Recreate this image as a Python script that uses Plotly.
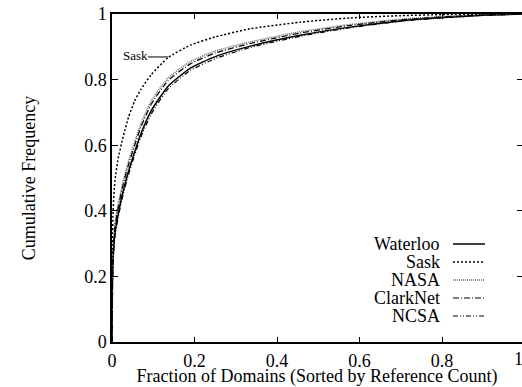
import plotly.graph_objects as go

# fraction of domains (sorted by reference count)
x_vals = [0, 0.001, 0.003, 0.007, 0.015, 0.027, 0.04, 0.055, 0.07, 0.095, 0.136, 0.19, 0.25, 0.335, 0.456, 0.577, 0.7, 0.8, 0.9, 1.0]

waterloo = [0, 0.17, 0.26, 0.33, 0.39, 0.46, 0.52, 0.58, 0.635, 0.705, 0.78, 0.835, 0.87, 0.902, 0.935, 0.96, 0.979, 0.989, 0.996, 1.0]
sask     = [0, 0.30, 0.41, 0.49, 0.56, 0.625, 0.685, 0.735, 0.77, 0.815, 0.867, 0.905, 0.93, 0.955, 0.975, 0.988, 0.995, 0.998, 0.999, 1.0]
nasa     = [0, 0.19, 0.29, 0.36, 0.42, 0.49, 0.55, 0.61, 0.665, 0.735, 0.805, 0.855, 0.887, 0.915, 0.946, 0.968, 0.984, 0.992, 0.997, 1.0]
clarknet = [0, 0.18, 0.28, 0.35, 0.41, 0.48, 0.54, 0.60, 0.655, 0.725, 0.797, 0.848, 0.881, 0.91, 0.942, 0.965, 0.982, 0.991, 0.997, 1.0]
ncsa     = [0, 0.16, 0.25, 0.32, 0.38, 0.45, 0.51, 0.57, 0.625, 0.695, 0.772, 0.828, 0.864, 0.898, 0.932, 0.958, 0.978, 0.988, 0.996, 1.0]

names = ["Waterloo", "Sask", "NASA", "ClarkNet", "NCSA"]
series = [waterloo, sask, nasa, clarknet, ncsa]
styles = [
    dict(color="black", width=1.5, dash="solid"),
    dict(color="black", width=1.5, dash="2px,2px"),
    dict(color="#666666", width=1.5, dash="1px,1px"),
    dict(color="black", width=1.2, dash="6px,2px,1px,2px"),
    dict(color="black", width=1.2, dash="5px,2px,1px,2px,1px,2px"),
]

x_ticks = [0, 0.2, 0.4, 0.6, 0.8]
x_tick_text = ["0", "0.2", "0.4", "0.6", "0.8"]
y_ticks = [0, 0.2, 0.4, 0.6, 0.8, 1]
y_tick_text = ["0", "0.2", "0.4", "0.6", "0.8", "1"]

FONT = "Liberation Serif"
fig = go.Figure()
for name, ys, st in zip(names, series, styles):
    fig.add_trace(go.Scatter(x=x_vals, y=ys, mode="lines", name=name,
                             line=dict(shape="spline", smoothing=0.5, **st), showlegend=False))

# invisible trace for right-side ticks
fig.add_trace(go.Scatter(x=[0], y=[0], yaxis="y2", mode="markers",
                         marker=dict(opacity=0), showlegend=False, hoverinfo="skip"))

W, H = 522, 387
L, T, B = 112, 14, 45
xmax = 410 / 412.5

fig.update_layout(
    width=W, height=H,
    margin=dict(l=L, r=0, t=T, b=B),
    paper_bgcolor="white", plot_bgcolor="white",
    font=dict(family=FONT, size=18, color="black"),
    xaxis=dict(range=[0, xmax], tickvals=x_ticks, ticktext=x_tick_text,
               ticks="inside", ticklen=5, tickwidth=1, tickcolor="black",
               showline=True, linecolor="black", linewidth=1.5, mirror="ticks",
               showgrid=False, zeroline=False, ticklabelstandoff=2,
               tickfont=dict(family=FONT, size=18, color="black"),
               title=dict(text="Fraction of Domains (Sorted by Reference Count)", standoff=2,
                          font=dict(family=FONT, size=18, color="black"))),
    yaxis=dict(range=[0, 1], tickvals=y_ticks, ticktext=y_tick_text,
               ticks="inside", ticklen=6, tickwidth=1, tickcolor="black",
               showline=True, linecolor="black", linewidth=1.5, mirror=False,
               showgrid=False, zeroline=False,
               tickfont=dict(family=FONT, size=18, color="black"),
               title=dict(text="Cumulative Frequency", standoff=44,
                          font=dict(family=FONT, size=18, color="black"))),
    yaxis2=dict(range=[0, 1], overlaying="y", side="right", tickvals=y_ticks,
                ticks="inside", ticklen=5, tickcolor="black", showticklabels=False,
                showline=False, showgrid=False, zeroline=False),
)

# tick label "1" at the (clipped) right end of the x axis
fig.add_annotation(x=412.5 / 410, y=0, xref="paper", yref="paper", text="1", showarrow=False,
                   yanchor="top", yshift=-5, font=dict(family=FONT, size=18, color="black"))

# Sask label with pointer line
fig.add_annotation(x=0.056, y=0.875, xref="x", yref="y", text="Sask", showarrow=False,
                   font=dict(family=FONT, size=13, color="black"))
fig.add_shape(type="line", xref="x", yref="y", x0=0.087, x1=0.136, y0=0.869, y1=0.869,
              line=dict(color="black", width=1))

# manual legend: text on the left, line sample on the right
ly = [(342 - py) / 328 for py in (244, 262, 280, 298, 316)]
for name, st, yy in zip(names, styles, ly):
    fig.add_annotation(x=(442 - L) / 410, y=yy, xref="paper", yref="paper", text=name,
                       showarrow=False, xanchor="right", yanchor="middle",
                       font=dict(family=FONT, size=18, color="black"))
    fig.add_shape(type="line", xref="paper", yref="paper",
                  x0=(453 - L) / 410, x1=(485 - L) / 410, y0=yy, y1=yy, line=st)

fig.write_html("out.html")
